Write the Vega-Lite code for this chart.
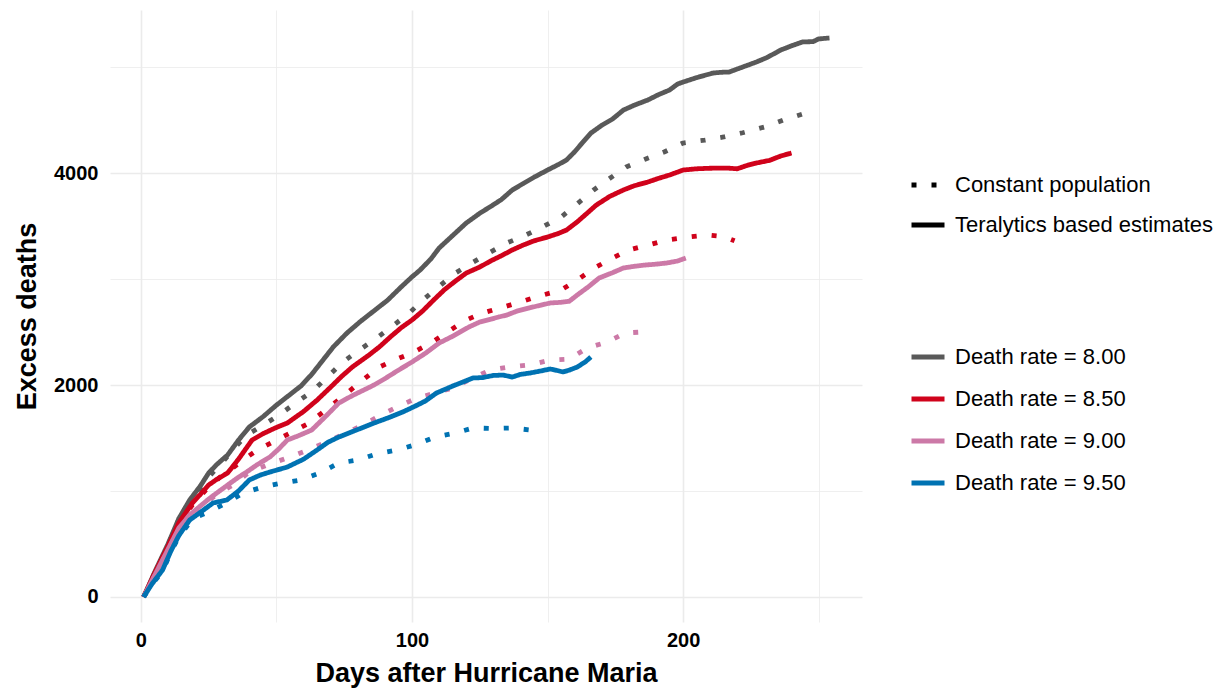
{
  "$schema": "https://vega.github.io/schema/vega-lite/v6.json",
  "width": 752,
  "height": 612,
  "autosize": "none",
  "padding": {"left": 110, "top": 10, "right": 355, "bottom": 70},
  "background": "white",
  "config": {
    "font": "Liberation Sans",
    "view": {"stroke": null},
    "axis": {"domain": false, "ticks": false, "gridColor": "#EBEBEB", "labelColor": "black", "titleColor": "black", "labelFont": "Liberation Sans", "titleFont": "Liberation Sans"},
    "legend": {"labelFont": "Liberation Sans"}
  },
  "data": {"values": [
    {"day":1,"deaths":0,"rate":"Death rate = 8.00","method":"Teralytics based estimates"},
    {"day":5,"deaths":230,"rate":"Death rate = 8.00","method":"Teralytics based estimates"},
    {"day":10,"deaths":500,"rate":"Death rate = 8.00","method":"Teralytics based estimates"},
    {"day":14,"deaths":740,"rate":"Death rate = 8.00","method":"Teralytics based estimates"},
    {"day":18,"deaths":915,"rate":"Death rate = 8.00","method":"Teralytics based estimates"},
    {"day":22,"deaths":1050,"rate":"Death rate = 8.00","method":"Teralytics based estimates"},
    {"day":25,"deaths":1170,"rate":"Death rate = 8.00","method":"Teralytics based estimates"},
    {"day":28,"deaths":1250,"rate":"Death rate = 8.00","method":"Teralytics based estimates"},
    {"day":32,"deaths":1340,"rate":"Death rate = 8.00","method":"Teralytics based estimates"},
    {"day":36,"deaths":1480,"rate":"Death rate = 8.00","method":"Teralytics based estimates"},
    {"day":40,"deaths":1604,"rate":"Death rate = 8.00","method":"Teralytics based estimates"},
    {"day":45,"deaths":1700,"rate":"Death rate = 8.00","method":"Teralytics based estimates"},
    {"day":50,"deaths":1810,"rate":"Death rate = 8.00","method":"Teralytics based estimates"},
    {"day":55,"deaths":1910,"rate":"Death rate = 8.00","method":"Teralytics based estimates"},
    {"day":59,"deaths":1990,"rate":"Death rate = 8.00","method":"Teralytics based estimates"},
    {"day":63,"deaths":2100,"rate":"Death rate = 8.00","method":"Teralytics based estimates"},
    {"day":67,"deaths":2230,"rate":"Death rate = 8.00","method":"Teralytics based estimates"},
    {"day":71,"deaths":2360,"rate":"Death rate = 8.00","method":"Teralytics based estimates"},
    {"day":76,"deaths":2490,"rate":"Death rate = 8.00","method":"Teralytics based estimates"},
    {"day":81,"deaths":2600,"rate":"Death rate = 8.00","method":"Teralytics based estimates"},
    {"day":86,"deaths":2700,"rate":"Death rate = 8.00","method":"Teralytics based estimates"},
    {"day":91,"deaths":2800,"rate":"Death rate = 8.00","method":"Teralytics based estimates"},
    {"day":96,"deaths":2925,"rate":"Death rate = 8.00","method":"Teralytics based estimates"},
    {"day":100,"deaths":3020,"rate":"Death rate = 8.00","method":"Teralytics based estimates"},
    {"day":103,"deaths":3085,"rate":"Death rate = 8.00","method":"Teralytics based estimates"},
    {"day":107,"deaths":3190,"rate":"Death rate = 8.00","method":"Teralytics based estimates"},
    {"day":110,"deaths":3292,"rate":"Death rate = 8.00","method":"Teralytics based estimates"},
    {"day":115,"deaths":3410,"rate":"Death rate = 8.00","method":"Teralytics based estimates"},
    {"day":120,"deaths":3528,"rate":"Death rate = 8.00","method":"Teralytics based estimates"},
    {"day":125,"deaths":3620,"rate":"Death rate = 8.00","method":"Teralytics based estimates"},
    {"day":130,"deaths":3700,"rate":"Death rate = 8.00","method":"Teralytics based estimates"},
    {"day":133,"deaths":3750,"rate":"Death rate = 8.00","method":"Teralytics based estimates"},
    {"day":137,"deaths":3840,"rate":"Death rate = 8.00","method":"Teralytics based estimates"},
    {"day":141,"deaths":3900,"rate":"Death rate = 8.00","method":"Teralytics based estimates"},
    {"day":145,"deaths":3960,"rate":"Death rate = 8.00","method":"Teralytics based estimates"},
    {"day":150,"deaths":4028,"rate":"Death rate = 8.00","method":"Teralytics based estimates"},
    {"day":154,"deaths":4080,"rate":"Death rate = 8.00","method":"Teralytics based estimates"},
    {"day":157,"deaths":4123,"rate":"Death rate = 8.00","method":"Teralytics based estimates"},
    {"day":160,"deaths":4200,"rate":"Death rate = 8.00","method":"Teralytics based estimates"},
    {"day":163,"deaths":4290,"rate":"Death rate = 8.00","method":"Teralytics based estimates"},
    {"day":166,"deaths":4377,"rate":"Death rate = 8.00","method":"Teralytics based estimates"},
    {"day":170,"deaths":4450,"rate":"Death rate = 8.00","method":"Teralytics based estimates"},
    {"day":174,"deaths":4510,"rate":"Death rate = 8.00","method":"Teralytics based estimates"},
    {"day":178,"deaths":4594,"rate":"Death rate = 8.00","method":"Teralytics based estimates"},
    {"day":182,"deaths":4640,"rate":"Death rate = 8.00","method":"Teralytics based estimates"},
    {"day":187,"deaths":4689,"rate":"Death rate = 8.00","method":"Teralytics based estimates"},
    {"day":191,"deaths":4740,"rate":"Death rate = 8.00","method":"Teralytics based estimates"},
    {"day":195,"deaths":4783,"rate":"Death rate = 8.00","method":"Teralytics based estimates"},
    {"day":198,"deaths":4840,"rate":"Death rate = 8.00","method":"Teralytics based estimates"},
    {"day":200,"deaths":4858,"rate":"Death rate = 8.00","method":"Teralytics based estimates"},
    {"day":205,"deaths":4900,"rate":"Death rate = 8.00","method":"Teralytics based estimates"},
    {"day":211,"deaths":4943,"rate":"Death rate = 8.00","method":"Teralytics based estimates"},
    {"day":214,"deaths":4950,"rate":"Death rate = 8.00","method":"Teralytics based estimates"},
    {"day":217,"deaths":4953,"rate":"Death rate = 8.00","method":"Teralytics based estimates"},
    {"day":222,"deaths":5000,"rate":"Death rate = 8.00","method":"Teralytics based estimates"},
    {"day":227,"deaths":5047,"rate":"Death rate = 8.00","method":"Teralytics based estimates"},
    {"day":231,"deaths":5090,"rate":"Death rate = 8.00","method":"Teralytics based estimates"},
    {"day":236,"deaths":5160,"rate":"Death rate = 8.00","method":"Teralytics based estimates"},
    {"day":240,"deaths":5200,"rate":"Death rate = 8.00","method":"Teralytics based estimates"},
    {"day":244,"deaths":5236,"rate":"Death rate = 8.00","method":"Teralytics based estimates"},
    {"day":248,"deaths":5240,"rate":"Death rate = 8.00","method":"Teralytics based estimates"},
    {"day":250,"deaths":5265,"rate":"Death rate = 8.00","method":"Teralytics based estimates"},
    {"day":254,"deaths":5274,"rate":"Death rate = 8.00","method":"Teralytics based estimates"},

    {"day":1,"deaths":0,"rate":"Death rate = 8.00","method":"Constant population"},
    {"day":5,"deaths":220,"rate":"Death rate = 8.00","method":"Constant population"},
    {"day":10,"deaths":490,"rate":"Death rate = 8.00","method":"Constant population"},
    {"day":14,"deaths":730,"rate":"Death rate = 8.00","method":"Constant population"},
    {"day":18,"deaths":900,"rate":"Death rate = 8.00","method":"Constant population"},
    {"day":22,"deaths":1030,"rate":"Death rate = 8.00","method":"Constant population"},
    {"day":26,"deaths":1160,"rate":"Death rate = 8.00","method":"Constant population"},
    {"day":30,"deaths":1270,"rate":"Death rate = 8.00","method":"Constant population"},
    {"day":35,"deaths":1420,"rate":"Death rate = 8.00","method":"Constant population"},
    {"day":39,"deaths":1528,"rate":"Death rate = 8.00","method":"Constant population"},
    {"day":44,"deaths":1604,"rate":"Death rate = 8.00","method":"Constant population"},
    {"day":51,"deaths":1717,"rate":"Death rate = 8.00","method":"Constant population"},
    {"day":57,"deaths":1830,"rate":"Death rate = 8.00","method":"Constant population"},
    {"day":63,"deaths":1934,"rate":"Death rate = 8.00","method":"Constant population"},
    {"day":69,"deaths":2080,"rate":"Death rate = 8.00","method":"Constant population"},
    {"day":74,"deaths":2207,"rate":"Death rate = 8.00","method":"Constant population"},
    {"day":80,"deaths":2320,"rate":"Death rate = 8.00","method":"Constant population"},
    {"day":87,"deaths":2443,"rate":"Death rate = 8.00","method":"Constant population"},
    {"day":93,"deaths":2560,"rate":"Death rate = 8.00","method":"Constant population"},
    {"day":99,"deaths":2679,"rate":"Death rate = 8.00","method":"Constant population"},
    {"day":104,"deaths":2802,"rate":"Death rate = 8.00","method":"Constant population"},
    {"day":110,"deaths":2930,"rate":"Death rate = 8.00","method":"Constant population"},
    {"day":116,"deaths":3056,"rate":"Death rate = 8.00","method":"Constant population"},
    {"day":122,"deaths":3150,"rate":"Death rate = 8.00","method":"Constant population"},
    {"day":129,"deaths":3255,"rate":"Death rate = 8.00","method":"Constant population"},
    {"day":135,"deaths":3340,"rate":"Death rate = 8.00","method":"Constant population"},
    {"day":142,"deaths":3415,"rate":"Death rate = 8.00","method":"Constant population"},
    {"day":148,"deaths":3490,"rate":"Death rate = 8.00","method":"Constant population"},
    {"day":155,"deaths":3585,"rate":"Death rate = 8.00","method":"Constant population"},
    {"day":161,"deaths":3710,"rate":"Death rate = 8.00","method":"Constant population"},
    {"day":167,"deaths":3840,"rate":"Death rate = 8.00","method":"Constant population"},
    {"day":173,"deaths":3950,"rate":"Death rate = 8.00","method":"Constant population"},
    {"day":179,"deaths":4057,"rate":"Death rate = 8.00","method":"Constant population"},
    {"day":186,"deaths":4130,"rate":"Death rate = 8.00","method":"Constant population"},
    {"day":193,"deaths":4198,"rate":"Death rate = 8.00","method":"Constant population"},
    {"day":200,"deaths":4283,"rate":"Death rate = 8.00","method":"Constant population"},
    {"day":208,"deaths":4310,"rate":"Death rate = 8.00","method":"Constant population"},
    {"day":215,"deaths":4340,"rate":"Death rate = 8.00","method":"Constant population"},
    {"day":222,"deaths":4380,"rate":"Death rate = 8.00","method":"Constant population"},
    {"day":230,"deaths":4434,"rate":"Death rate = 8.00","method":"Constant population"},
    {"day":237,"deaths":4500,"rate":"Death rate = 8.00","method":"Constant population"},
    {"day":244,"deaths":4556,"rate":"Death rate = 8.00","method":"Constant population"},

    {"day":1,"deaths":0,"rate":"Death rate = 8.50","method":"Teralytics based estimates"},
    {"day":5,"deaths":220,"rate":"Death rate = 8.50","method":"Teralytics based estimates"},
    {"day":10,"deaths":480,"rate":"Death rate = 8.50","method":"Teralytics based estimates"},
    {"day":14,"deaths":700,"rate":"Death rate = 8.50","method":"Teralytics based estimates"},
    {"day":19,"deaths":887,"rate":"Death rate = 8.50","method":"Teralytics based estimates"},
    {"day":22,"deaths":970,"rate":"Death rate = 8.50","method":"Teralytics based estimates"},
    {"day":25,"deaths":1057,"rate":"Death rate = 8.50","method":"Teralytics based estimates"},
    {"day":28,"deaths":1110,"rate":"Death rate = 8.50","method":"Teralytics based estimates"},
    {"day":32,"deaths":1170,"rate":"Death rate = 8.50","method":"Teralytics based estimates"},
    {"day":36,"deaths":1300,"rate":"Death rate = 8.50","method":"Teralytics based estimates"},
    {"day":41,"deaths":1481,"rate":"Death rate = 8.50","method":"Teralytics based estimates"},
    {"day":45,"deaths":1540,"rate":"Death rate = 8.50","method":"Teralytics based estimates"},
    {"day":50,"deaths":1600,"rate":"Death rate = 8.50","method":"Teralytics based estimates"},
    {"day":54,"deaths":1641,"rate":"Death rate = 8.50","method":"Teralytics based estimates"},
    {"day":60,"deaths":1750,"rate":"Death rate = 8.50","method":"Teralytics based estimates"},
    {"day":65,"deaths":1858,"rate":"Death rate = 8.50","method":"Teralytics based estimates"},
    {"day":70,"deaths":1980,"rate":"Death rate = 8.50","method":"Teralytics based estimates"},
    {"day":74,"deaths":2080,"rate":"Death rate = 8.50","method":"Teralytics based estimates"},
    {"day":78,"deaths":2170,"rate":"Death rate = 8.50","method":"Teralytics based estimates"},
    {"day":84,"deaths":2280,"rate":"Death rate = 8.50","method":"Teralytics based estimates"},
    {"day":88,"deaths":2360,"rate":"Death rate = 8.50","method":"Teralytics based estimates"},
    {"day":92,"deaths":2453,"rate":"Death rate = 8.50","method":"Teralytics based estimates"},
    {"day":96,"deaths":2540,"rate":"Death rate = 8.50","method":"Teralytics based estimates"},
    {"day":100,"deaths":2613,"rate":"Death rate = 8.50","method":"Teralytics based estimates"},
    {"day":104,"deaths":2700,"rate":"Death rate = 8.50","method":"Teralytics based estimates"},
    {"day":108,"deaths":2802,"rate":"Death rate = 8.50","method":"Teralytics based estimates"},
    {"day":112,"deaths":2900,"rate":"Death rate = 8.50","method":"Teralytics based estimates"},
    {"day":116,"deaths":2980,"rate":"Death rate = 8.50","method":"Teralytics based estimates"},
    {"day":120,"deaths":3056,"rate":"Death rate = 8.50","method":"Teralytics based estimates"},
    {"day":125,"deaths":3113,"rate":"Death rate = 8.50","method":"Teralytics based estimates"},
    {"day":129,"deaths":3170,"rate":"Death rate = 8.50","method":"Teralytics based estimates"},
    {"day":133,"deaths":3220,"rate":"Death rate = 8.50","method":"Teralytics based estimates"},
    {"day":137,"deaths":3274,"rate":"Death rate = 8.50","method":"Teralytics based estimates"},
    {"day":141,"deaths":3320,"rate":"Death rate = 8.50","method":"Teralytics based estimates"},
    {"day":145,"deaths":3360,"rate":"Death rate = 8.50","method":"Teralytics based estimates"},
    {"day":150,"deaths":3396,"rate":"Death rate = 8.50","method":"Teralytics based estimates"},
    {"day":154,"deaths":3430,"rate":"Death rate = 8.50","method":"Teralytics based estimates"},
    {"day":157,"deaths":3462,"rate":"Death rate = 8.50","method":"Teralytics based estimates"},
    {"day":161,"deaths":3540,"rate":"Death rate = 8.50","method":"Teralytics based estimates"},
    {"day":165,"deaths":3630,"rate":"Death rate = 8.50","method":"Teralytics based estimates"},
    {"day":168,"deaths":3698,"rate":"Death rate = 8.50","method":"Teralytics based estimates"},
    {"day":173,"deaths":3780,"rate":"Death rate = 8.50","method":"Teralytics based estimates"},
    {"day":178,"deaths":3840,"rate":"Death rate = 8.50","method":"Teralytics based estimates"},
    {"day":182,"deaths":3880,"rate":"Death rate = 8.50","method":"Teralytics based estimates"},
    {"day":187,"deaths":3915,"rate":"Death rate = 8.50","method":"Teralytics based estimates"},
    {"day":191,"deaths":3950,"rate":"Death rate = 8.50","method":"Teralytics based estimates"},
    {"day":195,"deaths":3981,"rate":"Death rate = 8.50","method":"Teralytics based estimates"},
    {"day":200,"deaths":4028,"rate":"Death rate = 8.50","method":"Teralytics based estimates"},
    {"day":205,"deaths":4040,"rate":"Death rate = 8.50","method":"Teralytics based estimates"},
    {"day":210,"deaths":4045,"rate":"Death rate = 8.50","method":"Teralytics based estimates"},
    {"day":216,"deaths":4047,"rate":"Death rate = 8.50","method":"Teralytics based estimates"},
    {"day":220,"deaths":4040,"rate":"Death rate = 8.50","method":"Teralytics based estimates"},
    {"day":224,"deaths":4075,"rate":"Death rate = 8.50","method":"Teralytics based estimates"},
    {"day":227,"deaths":4094,"rate":"Death rate = 8.50","method":"Teralytics based estimates"},
    {"day":232,"deaths":4120,"rate":"Death rate = 8.50","method":"Teralytics based estimates"},
    {"day":236,"deaths":4160,"rate":"Death rate = 8.50","method":"Teralytics based estimates"},
    {"day":240,"deaths":4189,"rate":"Death rate = 8.50","method":"Teralytics based estimates"},

    {"day":1,"deaths":0,"rate":"Death rate = 8.50","method":"Constant population"},
    {"day":5,"deaths":215,"rate":"Death rate = 8.50","method":"Constant population"},
    {"day":10,"deaths":470,"rate":"Death rate = 8.50","method":"Constant population"},
    {"day":14,"deaths":690,"rate":"Death rate = 8.50","method":"Constant population"},
    {"day":19,"deaths":870,"rate":"Death rate = 8.50","method":"Constant population"},
    {"day":24,"deaths":1010,"rate":"Death rate = 8.50","method":"Constant population"},
    {"day":30,"deaths":1150,"rate":"Death rate = 8.50","method":"Constant population"},
    {"day":34,"deaths":1220,"rate":"Death rate = 8.50","method":"Constant population"},
    {"day":37.6,"deaths":1292,"rate":"Death rate = 8.50","method":"Constant population"},
    {"day":43,"deaths":1387,"rate":"Death rate = 8.50","method":"Constant population"},
    {"day":50,"deaths":1481,"rate":"Death rate = 8.50","method":"Constant population"},
    {"day":56,"deaths":1560,"rate":"Death rate = 8.50","method":"Constant population"},
    {"day":62,"deaths":1641,"rate":"Death rate = 8.50","method":"Constant population"},
    {"day":69,"deaths":1780,"rate":"Death rate = 8.50","method":"Constant population"},
    {"day":76,"deaths":1924,"rate":"Death rate = 8.50","method":"Constant population"},
    {"day":82,"deaths":2050,"rate":"Death rate = 8.50","method":"Constant population"},
    {"day":88,"deaths":2170,"rate":"Death rate = 8.50","method":"Constant population"},
    {"day":94,"deaths":2240,"rate":"Death rate = 8.50","method":"Constant population"},
    {"day":100,"deaths":2302,"rate":"Death rate = 8.50","method":"Constant population"},
    {"day":107,"deaths":2396,"rate":"Death rate = 8.50","method":"Constant population"},
    {"day":113,"deaths":2500,"rate":"Death rate = 8.50","method":"Constant population"},
    {"day":120,"deaths":2613,"rate":"Death rate = 8.50","method":"Constant population"},
    {"day":126,"deaths":2679,"rate":"Death rate = 8.50","method":"Constant population"},
    {"day":133,"deaths":2730,"rate":"Death rate = 8.50","method":"Constant population"},
    {"day":140,"deaths":2783,"rate":"Death rate = 8.50","method":"Constant population"},
    {"day":147,"deaths":2840,"rate":"Death rate = 8.50","method":"Constant population"},
    {"day":155,"deaths":2896,"rate":"Death rate = 8.50","method":"Constant population"},
    {"day":161,"deaths":2991,"rate":"Death rate = 8.50","method":"Constant population"},
    {"day":167,"deaths":3100,"rate":"Death rate = 8.50","method":"Constant population"},
    {"day":174,"deaths":3198,"rate":"Death rate = 8.50","method":"Constant population"},
    {"day":180,"deaths":3274,"rate":"Death rate = 8.50","method":"Constant population"},
    {"day":187,"deaths":3320,"rate":"Death rate = 8.50","method":"Constant population"},
    {"day":194,"deaths":3368,"rate":"Death rate = 8.50","method":"Constant population"},
    {"day":202,"deaths":3396,"rate":"Death rate = 8.50","method":"Constant population"},
    {"day":209,"deaths":3415,"rate":"Death rate = 8.50","method":"Constant population"},
    {"day":215,"deaths":3400,"rate":"Death rate = 8.50","method":"Constant population"},
    {"day":219,"deaths":3360,"rate":"Death rate = 8.50","method":"Constant population"},

    {"day":1,"deaths":0,"rate":"Death rate = 9.00","method":"Teralytics based estimates"},
    {"day":5,"deaths":200,"rate":"Death rate = 9.00","method":"Teralytics based estimates"},
    {"day":10,"deaths":450,"rate":"Death rate = 9.00","method":"Teralytics based estimates"},
    {"day":14,"deaths":650,"rate":"Death rate = 9.00","method":"Teralytics based estimates"},
    {"day":18,"deaths":774,"rate":"Death rate = 9.00","method":"Teralytics based estimates"},
    {"day":22,"deaths":860,"rate":"Death rate = 9.00","method":"Teralytics based estimates"},
    {"day":25.5,"deaths":934,"rate":"Death rate = 9.00","method":"Teralytics based estimates"},
    {"day":29,"deaths":1000,"rate":"Death rate = 9.00","method":"Teralytics based estimates"},
    {"day":33,"deaths":1075,"rate":"Death rate = 9.00","method":"Teralytics based estimates"},
    {"day":36,"deaths":1130,"rate":"Death rate = 9.00","method":"Teralytics based estimates"},
    {"day":39,"deaths":1179,"rate":"Death rate = 9.00","method":"Teralytics based estimates"},
    {"day":43,"deaths":1250,"rate":"Death rate = 9.00","method":"Teralytics based estimates"},
    {"day":47.6,"deaths":1321,"rate":"Death rate = 9.00","method":"Teralytics based estimates"},
    {"day":51,"deaths":1400,"rate":"Death rate = 9.00","method":"Teralytics based estimates"},
    {"day":54,"deaths":1481,"rate":"Death rate = 9.00","method":"Teralytics based estimates"},
    {"day":58,"deaths":1520,"rate":"Death rate = 9.00","method":"Teralytics based estimates"},
    {"day":63,"deaths":1575,"rate":"Death rate = 9.00","method":"Teralytics based estimates"},
    {"day":68,"deaths":1700,"rate":"Death rate = 9.00","method":"Teralytics based estimates"},
    {"day":73,"deaths":1830,"rate":"Death rate = 9.00","method":"Teralytics based estimates"},
    {"day":78,"deaths":1900,"rate":"Death rate = 9.00","method":"Teralytics based estimates"},
    {"day":82,"deaths":1950,"rate":"Death rate = 9.00","method":"Teralytics based estimates"},
    {"day":86,"deaths":2000,"rate":"Death rate = 9.00","method":"Teralytics based estimates"},
    {"day":90,"deaths":2060,"rate":"Death rate = 9.00","method":"Teralytics based estimates"},
    {"day":95,"deaths":2140,"rate":"Death rate = 9.00","method":"Teralytics based estimates"},
    {"day":100,"deaths":2217,"rate":"Death rate = 9.00","method":"Teralytics based estimates"},
    {"day":105,"deaths":2300,"rate":"Death rate = 9.00","method":"Teralytics based estimates"},
    {"day":110,"deaths":2396,"rate":"Death rate = 9.00","method":"Teralytics based estimates"},
    {"day":115,"deaths":2460,"rate":"Death rate = 9.00","method":"Teralytics based estimates"},
    {"day":121,"deaths":2547,"rate":"Death rate = 9.00","method":"Teralytics based estimates"},
    {"day":125,"deaths":2594,"rate":"Death rate = 9.00","method":"Teralytics based estimates"},
    {"day":129,"deaths":2620,"rate":"Death rate = 9.00","method":"Teralytics based estimates"},
    {"day":132,"deaths":2642,"rate":"Death rate = 9.00","method":"Teralytics based estimates"},
    {"day":135,"deaths":2660,"rate":"Death rate = 9.00","method":"Teralytics based estimates"},
    {"day":139,"deaths":2700,"rate":"Death rate = 9.00","method":"Teralytics based estimates"},
    {"day":143,"deaths":2726,"rate":"Death rate = 9.00","method":"Teralytics based estimates"},
    {"day":147,"deaths":2750,"rate":"Death rate = 9.00","method":"Teralytics based estimates"},
    {"day":151,"deaths":2774,"rate":"Death rate = 9.00","method":"Teralytics based estimates"},
    {"day":155,"deaths":2780,"rate":"Death rate = 9.00","method":"Teralytics based estimates"},
    {"day":158,"deaths":2790,"rate":"Death rate = 9.00","method":"Teralytics based estimates"},
    {"day":161,"deaths":2850,"rate":"Death rate = 9.00","method":"Teralytics based estimates"},
    {"day":165,"deaths":2925,"rate":"Death rate = 9.00","method":"Teralytics based estimates"},
    {"day":169,"deaths":3009,"rate":"Death rate = 9.00","method":"Teralytics based estimates"},
    {"day":174,"deaths":3060,"rate":"Death rate = 9.00","method":"Teralytics based estimates"},
    {"day":178,"deaths":3104,"rate":"Death rate = 9.00","method":"Teralytics based estimates"},
    {"day":182,"deaths":3120,"rate":"Death rate = 9.00","method":"Teralytics based estimates"},
    {"day":186,"deaths":3132,"rate":"Death rate = 9.00","method":"Teralytics based estimates"},
    {"day":190,"deaths":3140,"rate":"Death rate = 9.00","method":"Teralytics based estimates"},
    {"day":194,"deaths":3151,"rate":"Death rate = 9.00","method":"Teralytics based estimates"},
    {"day":198,"deaths":3170,"rate":"Death rate = 9.00","method":"Teralytics based estimates"},
    {"day":201,"deaths":3198,"rate":"Death rate = 9.00","method":"Teralytics based estimates"},

    {"day":1,"deaths":0,"rate":"Death rate = 9.00","method":"Constant population"},
    {"day":5,"deaths":195,"rate":"Death rate = 9.00","method":"Constant population"},
    {"day":10,"deaths":440,"rate":"Death rate = 9.00","method":"Constant population"},
    {"day":14,"deaths":640,"rate":"Death rate = 9.00","method":"Constant population"},
    {"day":18,"deaths":760,"rate":"Death rate = 9.00","method":"Constant population"},
    {"day":22,"deaths":850,"rate":"Death rate = 9.00","method":"Constant population"},
    {"day":26,"deaths":930,"rate":"Death rate = 9.00","method":"Constant population"},
    {"day":30,"deaths":1000,"rate":"Death rate = 9.00","method":"Constant population"},
    {"day":34,"deaths":1057,"rate":"Death rate = 9.00","method":"Constant population"},
    {"day":40,"deaths":1179,"rate":"Death rate = 9.00","method":"Constant population"},
    {"day":47.6,"deaths":1255,"rate":"Death rate = 9.00","method":"Constant population"},
    {"day":55,"deaths":1321,"rate":"Death rate = 9.00","method":"Constant population"},
    {"day":62,"deaths":1390,"rate":"Death rate = 9.00","method":"Constant population"},
    {"day":68.6,"deaths":1462,"rate":"Death rate = 9.00","method":"Constant population"},
    {"day":75,"deaths":1540,"rate":"Death rate = 9.00","method":"Constant population"},
    {"day":82,"deaths":1622,"rate":"Death rate = 9.00","method":"Constant population"},
    {"day":88,"deaths":1710,"rate":"Death rate = 9.00","method":"Constant population"},
    {"day":94.5,"deaths":1792,"rate":"Death rate = 9.00","method":"Constant population"},
    {"day":101.8,"deaths":1877,"rate":"Death rate = 9.00","method":"Constant population"},
    {"day":108,"deaths":1920,"rate":"Death rate = 9.00","method":"Constant population"},
    {"day":115,"deaths":1972,"rate":"Death rate = 9.00","method":"Constant population"},
    {"day":122,"deaths":2060,"rate":"Death rate = 9.00","method":"Constant population"},
    {"day":128.8,"deaths":2141,"rate":"Death rate = 9.00","method":"Constant population"},
    {"day":136,"deaths":2170,"rate":"Death rate = 9.00","method":"Constant population"},
    {"day":143.5,"deaths":2189,"rate":"Death rate = 9.00","method":"Constant population"},
    {"day":151,"deaths":2236,"rate":"Death rate = 9.00","method":"Constant population"},
    {"day":158,"deaths":2245,"rate":"Death rate = 9.00","method":"Constant population"},
    {"day":164.6,"deaths":2349,"rate":"Death rate = 9.00","method":"Constant population"},
    {"day":172,"deaths":2406,"rate":"Death rate = 9.00","method":"Constant population"},
    {"day":178.6,"deaths":2491,"rate":"Death rate = 9.00","method":"Constant population"},
    {"day":185,"deaths":2500,"rate":"Death rate = 9.00","method":"Constant population"},

    {"day":1,"deaths":0,"rate":"Death rate = 9.50","method":"Teralytics based estimates"},
    {"day":4,"deaths":120,"rate":"Death rate = 9.50","method":"Teralytics based estimates"},
    {"day":8,"deaths":255,"rate":"Death rate = 9.50","method":"Teralytics based estimates"},
    {"day":11,"deaths":430,"rate":"Death rate = 9.50","method":"Teralytics based estimates"},
    {"day":14,"deaths":580,"rate":"Death rate = 9.50","method":"Teralytics based estimates"},
    {"day":18,"deaths":726,"rate":"Death rate = 9.50","method":"Teralytics based estimates"},
    {"day":22,"deaths":800,"rate":"Death rate = 9.50","method":"Teralytics based estimates"},
    {"day":26.6,"deaths":887,"rate":"Death rate = 9.50","method":"Teralytics based estimates"},
    {"day":31.7,"deaths":915,"rate":"Death rate = 9.50","method":"Teralytics based estimates"},
    {"day":36,"deaths":1000,"rate":"Death rate = 9.50","method":"Teralytics based estimates"},
    {"day":40,"deaths":1104,"rate":"Death rate = 9.50","method":"Teralytics based estimates"},
    {"day":44,"deaths":1150,"rate":"Death rate = 9.50","method":"Teralytics based estimates"},
    {"day":47.6,"deaths":1179,"rate":"Death rate = 9.50","method":"Teralytics based estimates"},
    {"day":54,"deaths":1226,"rate":"Death rate = 9.50","method":"Teralytics based estimates"},
    {"day":60,"deaths":1300,"rate":"Death rate = 9.50","method":"Teralytics based estimates"},
    {"day":65,"deaths":1387,"rate":"Death rate = 9.50","method":"Teralytics based estimates"},
    {"day":69,"deaths":1460,"rate":"Death rate = 9.50","method":"Teralytics based estimates"},
    {"day":73,"deaths":1509,"rate":"Death rate = 9.50","method":"Teralytics based estimates"},
    {"day":79,"deaths":1570,"rate":"Death rate = 9.50","method":"Teralytics based estimates"},
    {"day":86,"deaths":1641,"rate":"Death rate = 9.50","method":"Teralytics based estimates"},
    {"day":92,"deaths":1698,"rate":"Death rate = 9.50","method":"Teralytics based estimates"},
    {"day":97,"deaths":1750,"rate":"Death rate = 9.50","method":"Teralytics based estimates"},
    {"day":102,"deaths":1811,"rate":"Death rate = 9.50","method":"Teralytics based estimates"},
    {"day":105,"deaths":1850,"rate":"Death rate = 9.50","method":"Teralytics based estimates"},
    {"day":109,"deaths":1924,"rate":"Death rate = 9.50","method":"Teralytics based estimates"},
    {"day":115,"deaths":1990,"rate":"Death rate = 9.50","method":"Teralytics based estimates"},
    {"day":122.5,"deaths":2066,"rate":"Death rate = 9.50","method":"Teralytics based estimates"},
    {"day":126,"deaths":2070,"rate":"Death rate = 9.50","method":"Teralytics based estimates"},
    {"day":130,"deaths":2090,"rate":"Death rate = 9.50","method":"Teralytics based estimates"},
    {"day":133.6,"deaths":2094,"rate":"Death rate = 9.50","method":"Teralytics based estimates"},
    {"day":137,"deaths":2075,"rate":"Death rate = 9.50","method":"Teralytics based estimates"},
    {"day":140,"deaths":2100,"rate":"Death rate = 9.50","method":"Teralytics based estimates"},
    {"day":143.5,"deaths":2113,"rate":"Death rate = 9.50","method":"Teralytics based estimates"},
    {"day":147,"deaths":2130,"rate":"Death rate = 9.50","method":"Teralytics based estimates"},
    {"day":151,"deaths":2151,"rate":"Death rate = 9.50","method":"Teralytics based estimates"},
    {"day":153,"deaths":2140,"rate":"Death rate = 9.50","method":"Teralytics based estimates"},
    {"day":155.7,"deaths":2123,"rate":"Death rate = 9.50","method":"Teralytics based estimates"},
    {"day":158,"deaths":2140,"rate":"Death rate = 9.50","method":"Teralytics based estimates"},
    {"day":161,"deaths":2170,"rate":"Death rate = 9.50","method":"Teralytics based estimates"},
    {"day":164,"deaths":2220,"rate":"Death rate = 9.50","method":"Teralytics based estimates"},
    {"day":166,"deaths":2264,"rate":"Death rate = 9.50","method":"Teralytics based estimates"},

    {"day":1,"deaths":0,"rate":"Death rate = 9.50","method":"Constant population"},
    {"day":4,"deaths":115,"rate":"Death rate = 9.50","method":"Constant population"},
    {"day":8,"deaths":245,"rate":"Death rate = 9.50","method":"Constant population"},
    {"day":11,"deaths":420,"rate":"Death rate = 9.50","method":"Constant population"},
    {"day":14,"deaths":570,"rate":"Death rate = 9.50","method":"Constant population"},
    {"day":18,"deaths":700,"rate":"Death rate = 9.50","method":"Constant population"},
    {"day":21,"deaths":760,"rate":"Death rate = 9.50","method":"Constant population"},
    {"day":24,"deaths":792,"rate":"Death rate = 9.50","method":"Constant population"},
    {"day":27,"deaths":830,"rate":"Death rate = 9.50","method":"Constant population"},
    {"day":31.7,"deaths":887,"rate":"Death rate = 9.50","method":"Constant population"},
    {"day":37.6,"deaths":981,"rate":"Death rate = 9.50","method":"Constant population"},
    {"day":45,"deaths":1038,"rate":"Death rate = 9.50","method":"Constant population"},
    {"day":52,"deaths":1075,"rate":"Death rate = 9.50","method":"Constant population"},
    {"day":59,"deaths":1104,"rate":"Death rate = 9.50","method":"Constant population"},
    {"day":66,"deaths":1170,"rate":"Death rate = 9.50","method":"Constant population"},
    {"day":73,"deaths":1264,"rate":"Death rate = 9.50","method":"Constant population"},
    {"day":80,"deaths":1292,"rate":"Death rate = 9.50","method":"Constant population"},
    {"day":87,"deaths":1349,"rate":"Death rate = 9.50","method":"Constant population"},
    {"day":94.5,"deaths":1387,"rate":"Death rate = 9.50","method":"Constant population"},
    {"day":101,"deaths":1434,"rate":"Death rate = 9.50","method":"Constant population"},
    {"day":108.5,"deaths":1509,"rate":"Death rate = 9.50","method":"Constant population"},
    {"day":116,"deaths":1547,"rate":"Death rate = 9.50","method":"Constant population"},
    {"day":122.5,"deaths":1594,"rate":"Death rate = 9.50","method":"Constant population"},
    {"day":130,"deaths":1590,"rate":"Death rate = 9.50","method":"Constant population"},
    {"day":137,"deaths":1594,"rate":"Death rate = 9.50","method":"Constant population"},
    {"day":144,"deaths":1575,"rate":"Death rate = 9.50","method":"Constant population"},
    {"day":146,"deaths":1580,"rate":"Death rate = 9.50","method":"Constant population"}
  ]},
  "mark": {"type": "line", "strokeWidth": 4.8, "strokeCap": "butt", "strokeJoin": "round", "clip": true},
  "encoding": {
    "x": {
      "field": "day", "type": "quantitative",
      "scale": {"domain": [-11.4, 266], "nice": false, "zero": false},
      "axis": {
        "values": [0, 50, 100, 150, 200, 250],
        "labelExpr": "datum.value % 100 === 0 ? datum.label : ''",
        "gridWidth": {"condition": {"test": "datum.value % 100 === 0", "value": 1.6}, "value": 0.8},
        "labelFontSize": 20, "labelFontWeight": "bold", "labelPadding": 8,
        "title": "Days after Hurricane Maria", "titleFontSize": 27, "titleFontWeight": "bold", "titlePadding": 10
      }
    },
    "y": {
      "field": "deaths", "type": "quantitative",
      "scale": {"domain": [-236, 5538], "nice": false, "zero": false},
      "axis": {
        "values": [0, 1000, 2000, 3000, 4000, 5000],
        "labelExpr": "datum.value % 2000 === 0 ? datum.label : ''",
        "format": "d",
        "gridWidth": {"condition": {"test": "datum.value % 2000 === 0", "value": 1.6}, "value": 0.8},
        "labelFontSize": 20, "labelFontWeight": "bold", "labelPadding": 12,
        "title": "Excess deaths", "titleFontSize": 27, "titleFontWeight": "bold", "titlePadding": 12
      }
    },
    "color": {
      "field": "rate", "type": "nominal",
      "scale": {
        "domain": ["Death rate = 8.00", "Death rate = 8.50", "Death rate = 9.00", "Death rate = 9.50"],
        "range": ["#595959", "#D0021B", "#CC79A7", "#0072B2"]
      },
      "legend": {
        "title": null, "orient": "none", "legendX": 799, "legendY": 328,
        "symbolType": "stroke", "symbolSize": 1089, "symbolStrokeWidth": 5,
        "labelFontSize": 22, "labelColor": "black", "labelOffset": 8, "labelLimit": 400, "rowPadding": 12, "padding": 0
      }
    },
    "strokeDash": {
      "field": "method", "type": "nominal",
      "scale": {
        "domain": ["Constant population", "Teralytics based estimates"],
        "range": [[5, 15], [1, 0]]
      },
      "legend": {
        "title": null, "orient": "none", "legendX": 799, "legendY": 156,
        "symbolType": "stroke", "symbolSize": 1089, "symbolStrokeWidth": 5, "symbolStrokeColor": "black",
        "labelFontSize": 22, "labelColor": "black", "labelOffset": 8, "labelLimit": 400, "rowPadding": 10, "padding": 0
      }
    }
  }
}
